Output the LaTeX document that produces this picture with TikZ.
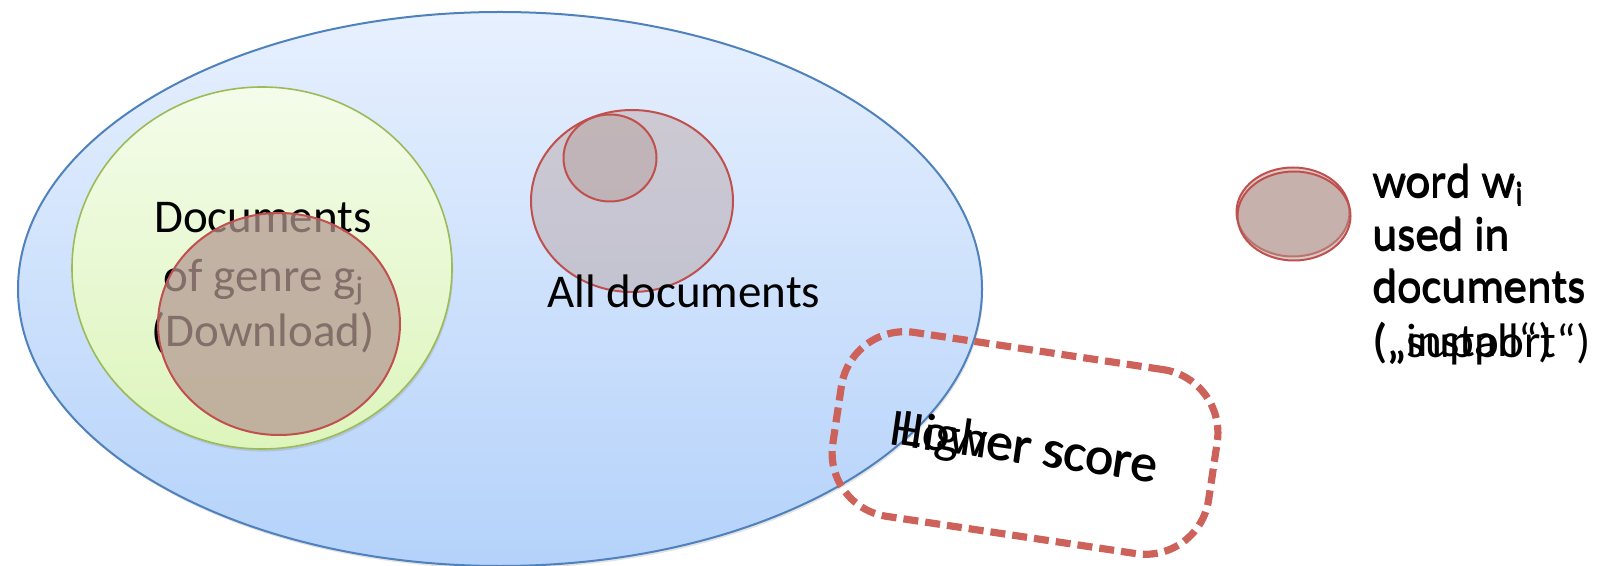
\documentclass[tikz,border=0pt]{standalone}
\usepackage{fontspec}
\setmainfont{Carlito}
\usetikzlibrary{shapes.geometric,shadows}

\definecolor{setblue}{RGB}{79,129,189}
\definecolor{setbluetop}{RGB}{231,240,254}
\definecolor{setbluebot}{RGB}{180,210,250}
\definecolor{genregreen}{RGB}{155,187,89}
\definecolor{genretop}{RGB}{244,252,234}
\definecolor{genrebot}{RGB}{221,245,188}
\definecolor{wordline}{RGB}{192,80,77}
\definecolor{wordfill}{RGB}{180,152,146}
\definecolor{scoreline}{RGB}{204,98,90}

\tikzset{
  blob/.style={ellipse, inner sep=0pt, outer sep=0pt},
  softshadow/.style={drop shadow={shadow xshift=0.6pt, shadow yshift=-1.3pt, opacity=0.22}},
  wordset/.style={blob, draw=wordline, line width=1pt, fill=wordfill, fill opacity=#1},
  txt/.style={font=\fontsize{23.5}{28}\selectfont, text=black, inner sep=0pt},
  scoretxt/.style={font=\fontsize{26.5}{30}\selectfont, text=black, inner sep=0pt,
    anchor=base east, rotate=-8.2},
  scorebox/.style={draw=scoreline, line width=3.6pt, dash pattern=on 7.5pt off 3.5pt,
    rounded corners=32pt, inner sep=0pt, minimum width=190pt, minimum height=93pt},
}

\begin{document}
\begin{tikzpicture}[x=0.5pt,y=-0.5pt]
\useasboundingbox (0,0) rectangle (1600,566);

% the set of all documents
\node[blob, draw=setblue, line width=1pt, top color=setbluetop, bottom color=setbluebot,
      minimum width=482pt, minimum height=277pt, softshadow] (alldocs) at (500,289) {};

% documents of one genre
\node[blob, draw=genregreen, line width=0.8pt, top color=genretop, bottom color=genrebot,
      minimum width=190pt, minimum height=181pt, softshadow] (genre) at (262,268) {};
\node[txt, anchor=base] (genreA) at (263,233) {Documents};
\node[txt, anchor=base] (genreB) at (264,292) {of genre g\textsubscript{j}};
\node[txt, anchor=base] (genreC) at (263,347) {(Download)};

% documents of the genre that use the word
\node[wordset=0.73, minimum width=121pt, minimum height=111pt] (genreword) at (279,324) {};

% documents in general that use the word
\node[wordset=0.4, minimum width=101pt, minimum height=91pt] (wordall) at (632,201) {};
\node[wordset=0.4, minimum width=46.5pt, minimum height=43.5pt] (wordsmall) at (610,158) {};
\node[txt, anchor=base] (alltext) at (684,308) {All documents};

% score region
\node[scorebox, rotate=-8.5] (score) at (1025,443) {};
\node[scoretxt] (lower) at (1155,482) {Lower score};
\node[scoretxt] (higher) at (1156,483) {Higher score};

% legend
\node[wordset=0.5, minimum width=56.5pt, minimum height=44.5pt] (legendA) at (1293,212) {};
\node[wordset=0.5, minimum width=56.5pt, minimum height=44.5pt] (legendB) at (1294,216) {};

\node[txt, anchor=base west] (legA1) at (1372,197) {word w\textsubscript{i}};
\node[txt, anchor=base west] (legA2) at (1372.6,198.6) {word w\textsubscript{i}};
\node[txt, anchor=base west] (legB1) at (1372,250) {used in};
\node[txt, anchor=base west] (legB2) at (1372.6,251.6) {used in};
\node[txt, anchor=base west] (legC1) at (1372,302) {documents};
\node[txt, anchor=base west] (legC2) at (1372.6,303.6) {documents};
\node[txt, anchor=base west] (legD1) at (1372,357) {(„install“)};
\node[txt, anchor=base west] (legD2) at (1372.6,357.6) {(„support“)};
\end{tikzpicture}
\end{document}
